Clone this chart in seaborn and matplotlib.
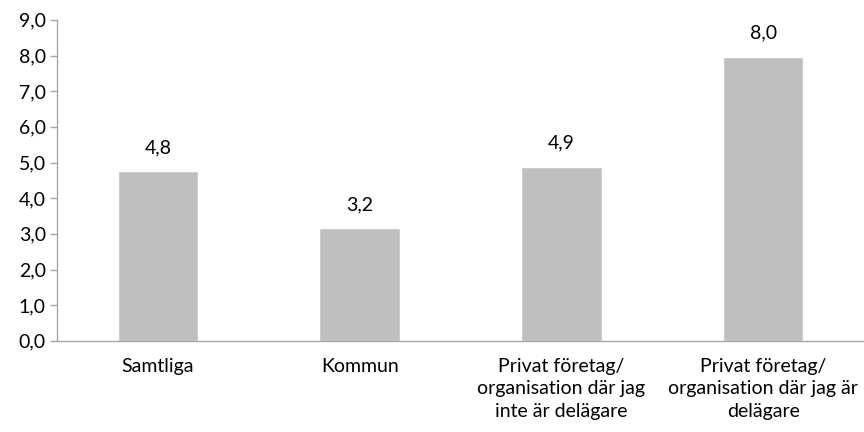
import numpy as np
import pandas as pd
import matplotlib
matplotlib.use("Agg")
import matplotlib.pyplot as plt
import seaborn as sns

# Data
categories = [
    "Samtliga",
    "Kommun",
    "Privat företag/\norganisation där jag\ninte är delägare",
    "Privat företag/\norganisation där jag är\ndelägare",
]
values = [4.76, 3.16, 4.88, 7.97]
y_ticks = [0, 1, 2, 3, 4, 5, 6, 7, 8, 9]

sns.set_theme(style="white")
plt.rcParams["font.family"] = ["Lato", "DejaVu Sans"]

df = pd.DataFrame({"cat": categories, "val": values})

fig = plt.figure(figsize=(8.64, 4.32), dpi=100)
ax = fig.add_axes([0.066, 0.211, 0.934, 0.743])

sns.barplot(data=df, x="cat", y="val", color="#BFBFBF", width=0.4,
            saturation=1, ax=ax)

axis_col = "#A6A6A6"
fs = 14
ax.set_xlim(-0.5, len(categories) - 0.5)
ax.set_ylim(0, 9)
ax.set_yticks(y_ticks)
ax.set_yticklabels([f"{t:.1f}".replace(".", ",") for t in y_ticks], fontsize=fs, color="#000000")
ax.set_xticks(range(len(categories)))
ax.set_xticklabels(categories, fontsize=fs, color="#000000", linespacing=1.4)
ax.set_xticks(np.arange(-0.5, len(categories), 1.0), minor=True)
ax.tick_params(axis="x", which="major", length=0, pad=12)
ax.tick_params(axis="x", which="minor", length=5, color=axis_col, width=1, direction="out")
ax.tick_params(axis="y", length=5, color=axis_col, width=1, direction="out", left=True, pad=3)
ax.set_xlabel("")
ax.set_ylabel("")

for s in ["top", "right"]:
    ax.spines[s].set_visible(False)
for s in ["left", "bottom"]:
    ax.spines[s].set_color(axis_col)
    ax.spines[s].set_linewidth(1)

for i, v in enumerate(values):
    ax.text(i, v + 0.42, f"{v:.1f}".replace(".", ","), ha="center", va="bottom",
            fontsize=fs, color="#000000")

fig.savefig("out.png", dpi=100)
